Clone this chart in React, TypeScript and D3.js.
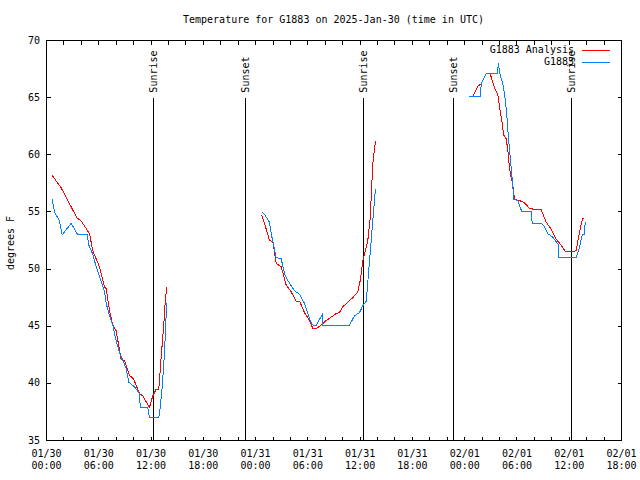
import React from "react";
import * as d3 from "d3";

// ---- data (hours since 2025-01-30 00:00 UTC, degrees F) ----
const analysisDay1Hours = [0.65, 1.69, 3.48, 3.98, 4.94, 5.31, 5.70, 6.08, 6.66, 6.85, 7.23, 7.61, 8.00, 8.38, 8.57, 8.95, 9.53, 9.99, 10.67, 11.05, 11.44, 11.82, 12.20, 12.59, 12.89, 13.17, 13.43, 13.66, 13.81];
const analysisDay1Temps = [58.2, 57.1, 54.5, 54.2, 53.1, 51.6, 50.9, 50.2, 48.4, 48.3, 46.4, 45.1, 44.6, 42.9, 42.1, 42.0, 40.7, 40.4, 39.1, 38.9, 38.4, 37.9, 38.9, 39.5, 39.5, 42.4, 44.8, 47.5, 48.4];
const analysisDay2Hours = [24.71, 25.02, 25.60, 25.98, 26.37, 26.94, 27.51, 28.09, 28.66, 29.04, 29.61, 30.19, 30.57, 30.96, 31.53, 32.10, 32.68, 33.25, 33.63, 34.01, 34.58, 35.16, 35.73, 36.01, 36.31, 36.70, 36.88, 37.16, 37.27, 37.45, 37.76];
const analysisDay2Temps = [54.7, 54.0, 52.5, 52.4, 50.5, 50.2, 48.6, 48.0, 47.2, 47.2, 46.2, 45.5, 44.8, 44.8, 45.1, 45.5, 45.8, 46.1, 46.2, 46.7, 47.1, 47.5, 48.0, 49.0, 50.7, 51.9, 52.5, 54.5, 56.3, 59.2, 61.2];
const analysisDay3Hours = [48.93, 49.51, 49.90, 50.47, 50.93, 51.23, 51.62, 51.80, 52.00, 52.26, 52.49, 52.77, 52.95, 53.15, 53.34, 53.52, 53.72, 54.29, 54.87, 55.44, 56.21, 56.78, 57.36, 57.93, 58.51, 59.08, 59.57, 60.23, 60.80, 60.99, 61.38, 61.56, 61.75];
const analysisDay3Temps = [65.1, 66.0, 66.2, 67.1, 67.1, 66.3, 65.5, 65.3, 64.2, 63.0, 61.7, 61.4, 60.4, 58.8, 58.0, 57.4, 56.1, 56.0, 55.8, 55.3, 55.2, 55.2, 54.1, 53.5, 52.6, 52.1, 51.5, 51.5, 51.6, 52.5, 54.0, 54.4, 54.4];

const obsDay1Hours = [0.65, 0.92, 1.49, 1.80, 2.84, 3.59, 4.67, 4.86, 5.31, 5.70, 6.28, 6.66, 6.85, 7.23, 7.61, 8.00, 8.38, 8.76, 9.15, 9.45, 10.10, 10.67, 10.76, 11.63, 11.82, 12.89, 13.05, 13.28, 13.54, 13.74, 13.81];
const obsDay1Temps = [56.1, 55.0, 54.2, 53.0, 54.0, 53.0, 53.0, 52.1, 51.3, 50.2, 48.9, 48.0, 47.0, 45.9, 45.1, 43.7, 42.7, 42.0, 41.3, 40.1, 39.7, 39.1, 37.9, 37.9, 37.0, 37.0, 37.9, 39.7, 42.6, 46.1, 47.0];
const obsDay2Hours = [24.71, 25.02, 25.60, 25.79, 26.37, 26.94, 27.32, 27.70, 28.47, 29.04, 29.61, 29.99, 30.38, 30.57, 30.96, 31.65, 31.72, 34.78, 35.35, 35.93, 36.31, 36.70, 37.08, 37.45, 37.65, 37.76];
const obsDay2Temps = [55.0, 54.8, 54.1, 53.1, 51.0, 50.9, 49.6, 49.0, 48.1, 47.8, 47.0, 46.1, 45.3, 45.1, 45.1, 46.0, 45.1, 45.1, 45.9, 46.2, 46.8, 47.2, 50.7, 54.2, 56.0, 57.0];
const obsDay3Hours = [48.55, 49.78, 49.90, 50.47, 51.73, 51.88, 52.00, 52.38, 52.69, 52.88, 53.03, 53.26, 53.41, 53.52, 53.64, 54.10, 54.56, 55.64, 55.75, 56.78, 57.16, 57.54, 58.11, 58.80, 58.81, 60.80, 61.18, 61.49, 61.75, 61.83];
const obsDay3Temps = [65.1, 65.1, 66.2, 67.1, 67.1, 68.0, 67.2, 66.2, 64.7, 63.0, 61.4, 59.5, 58.2, 57.3, 56.1, 56.0, 55.0, 55.0, 54.0, 54.0, 53.7, 53.1, 52.8, 52.1, 51.0, 51.0, 51.9, 53.0, 53.0, 54.1];

const sunEventHours = [12.27, 22.8, 36.35, 46.72, 60.27];
const sunEventLabels = ["Sunrise", "Sunset", "Sunrise", "Sunset", "Sunrise"];

const yTicks = [35, 40, 45, 50, 55, 60, 65, 70];
const seriesNames = ["G1883 Analysis", "G1883"];
const seriesColors = ["#ff0000", "#0080ff"];

const START = Date.UTC(2025, 0, 30, 0, 0);
const END = Date.UTC(2025, 1, 1, 18, 0);
const H = 3600 * 1000;
const FONT = "DejaVu Sans Mono, Liberation Mono, monospace";

function zip(h: number[], t: number[]): [number, number][] {
  return h.map((v, i) => [v, t[i]]);
}

export default function App() {
  const W = 640, HT = 480;
  const left = 46.5, right = 621.5, top = 40.5, bottom = 440.5;
  const x = d3.scaleUtc().domain([new Date(START), new Date(END)]).range([left, right]);
  const y = d3.scaleLinear().domain([35, 70]).range([bottom, top]);
  const xh = (h: number) => x(new Date(START + h * H));

  const line = d3
    .line<[number, number]>()
    .x((d) => xh(d[0]))
    .y((d) => y(d[1]));

  const analysis = [
    zip(analysisDay1Hours, analysisDay1Temps),
    zip(analysisDay2Hours, analysisDay2Temps),
    zip(analysisDay3Hours, analysisDay3Temps),
  ];
  const obs = [
    zip(obsDay1Hours, obsDay1Temps),
    zip(obsDay2Hours, obsDay2Temps),
    zip(obsDay3Hours, obsDay3Temps),
  ];

  const minorTicks = d3.utcHour.every(2)!.range(new Date(START), new Date(END + 1));
  const majorTicks = d3.utcHour.every(6)!.range(new Date(START), new Date(END + 1));
  const fmtDate = d3.utcFormat("%m/%d");
  const fmtTime = d3.utcFormat("%H:%M");
  const tl = 4;

  return (
    <svg width={W} height={HT} style={{ position: "absolute", left: 0, top: 0, background: "#fff" }} fontFamily={FONT} fontSize={10}>
      <rect x={0} y={0} width={W} height={HT} fill="#fff" />
      <text x={333.5} y={20} textAnchor="middle" dominantBaseline="middle">
        Temperature for G1883 on 2025-Jan-30 (time in UTC)
      </text>

      {/* y ticks */}
      {yTicks.map((v) => (
        <g key={"y" + v} shapeRendering="crispEdges">
          <line x1={left} x2={left + tl} y1={Math.round(y(v) - 0.5) + 0.5} y2={Math.round(y(v) - 0.5) + 0.5} stroke="#000" />
          <line x1={right - tl} x2={right} y1={Math.round(y(v) - 0.5) + 0.5} y2={Math.round(y(v) - 0.5) + 0.5} stroke="#000" />
          <text x={40} y={y(v)} textAnchor="end" dominantBaseline="middle">{v}</text>
        </g>
      ))}

      {/* x ticks */}
      {minorTicks.map((d, i) => {
        const px = Math.round(x(d) - 0.5) + 0.5;
        return (
          <g key={"xt" + i} shapeRendering="crispEdges">
            <line x1={px} x2={px} y1={bottom} y2={bottom - tl} stroke="#000" />
            <line x1={px} x2={px} y1={top} y2={top + tl} stroke="#000" />
          </g>
        );
      })}
      {majorTicks.map((d, i) => (
        <g key={"xl" + i}>
          <text x={x(d)} y={454} textAnchor="middle" dominantBaseline="middle">{fmtDate(d)}</text>
          <text x={x(d)} y={466} textAnchor="middle" dominantBaseline="middle">{fmtTime(d)}</text>
        </g>
      ))}

      <text transform="translate(11,243) rotate(-90)" textAnchor="middle" dominantBaseline="middle">degrees F</text>

      {/* sun events */}
      {sunEventHours.map((h, i) => {
        const px = Math.round(xh(h) - 0.5) + 0.5;
        return (
          <g key={"sun" + i}>
            <line x1={px} x2={px} y1={y(65)} y2={bottom} stroke="#000" shapeRendering="crispEdges" />
            <text transform={`translate(${px + 0.5},${y(65) - 5}) rotate(-90)`} textAnchor="start" dominantBaseline="middle">
              {sunEventLabels[i]}
            </text>
          </g>
        );
      })}

      {/* series */}
      {analysis.map((seg, i) => (
        <path key={"a" + i} d={line(seg) || ""} fill="none" stroke={seriesColors[0]} strokeWidth={1} shapeRendering="crispEdges" />
      ))}
      {obs.map((seg, i) => (
        <path key={"o" + i} d={line(seg) || ""} fill="none" stroke={seriesColors[1]} strokeWidth={1} shapeRendering="crispEdges" />
      ))}

      {/* legend */}
      {seriesNames.map((name, i) => (
        <g key={"lg" + i}>
          <text x={574} y={50 + i * 12} textAnchor="end" dominantBaseline="middle">{name}</text>
          <line x1={582} x2={610} y1={50.5 + i * 12} y2={50.5 + i * 12} stroke={seriesColors[i]} shapeRendering="crispEdges" />
        </g>
      ))}

      <rect x={left} y={top} width={right - left} height={bottom - top} fill="none" stroke="#000" shapeRendering="crispEdges" />
    </svg>
  );
}
